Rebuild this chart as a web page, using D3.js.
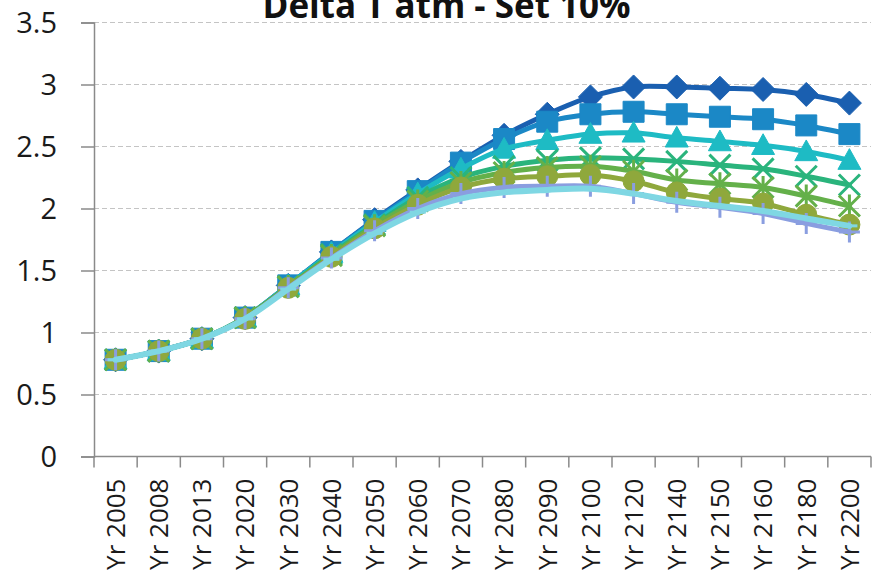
<!DOCTYPE html>
<html>
<head>
<meta charset="utf-8">
<script src="https://cdn.jsdelivr.net/npm/d3@7"></script>
<style>
  html, body { margin: 0; padding: 0; background: #fff; }
  svg { display: block; }
</style>
</head>
<body>
<svg id="chart" width="873" height="579"></svg>
<script>
// ---- DATA ----
const title = "Delta T atm - Set 10%";
const categories = ["Yr 2005","Yr 2008","Yr 2013","Yr 2020","Yr 2030","Yr 2040","Yr 2050","Yr 2060","Yr 2070","Yr 2080","Yr 2090","Yr 2100","Yr 2120","Yr 2140","Yr 2150","Yr 2160","Yr 2180","Yr 2200"];
const yTickValues = [0, 0.5, 1, 1.5, 2, 2.5, 3, 3.5];
const yTickLabels = ["0", "0.5", "1", "1.5", "2", "2.5", "3", "3.5"];

const seriesNames = ["S1", "S2", "S3", "S4", "S5", "S6", "S7", "S8"];
const seriesMarkers = ["diamond", "square", "triangle", "x", "star", "circle", "plus", "dash"];
const seriesColors = ["#1a5fb0", "#1b88c6", "#1ebbc4", "#2ab47c", "#64b04a", "#8fa83c", "#8a9ee0", "#7fd7e3"];

const s1 = [0.78,0.85,0.95,1.12,1.38,1.65,1.91,2.15,2.38,2.59,2.76,2.90,2.98,2.98,2.97,2.96,2.92,2.85];
const s2 = [0.78,0.85,0.95,1.12,1.38,1.65,1.90,2.14,2.37,2.56,2.70,2.76,2.78,2.76,2.74,2.72,2.67,2.60];
const s3 = [0.78,0.85,0.95,1.12,1.38,1.64,1.89,2.12,2.32,2.48,2.55,2.60,2.61,2.57,2.54,2.51,2.46,2.39];
const s4 = [0.78,0.85,0.95,1.12,1.37,1.63,1.87,2.09,2.25,2.34,2.39,2.41,2.40,2.38,2.35,2.32,2.26,2.19];
const s5 = [0.78,0.85,0.95,1.12,1.37,1.62,1.86,2.06,2.21,2.29,2.33,2.34,2.30,2.23,2.20,2.17,2.10,2.02];
const s6 = [0.78,0.85,0.95,1.11,1.36,1.61,1.84,2.03,2.17,2.24,2.26,2.27,2.22,2.13,2.08,2.04,1.95,1.87];
const s7 = [0.78,0.85,0.95,1.11,1.36,1.60,1.82,2.00,2.12,2.17,2.18,2.18,2.12,2.05,2.01,1.96,1.88,1.81];
const s8 = [0.78,0.85,0.95,1.11,1.35,1.59,1.80,1.97,2.08,2.13,2.15,2.16,2.12,2.06,2.02,1.98,1.92,1.86];
const seriesValues = [s1, s2, s3, s4, s5, s6, s7, s8];

// ---- LAYOUT ----
const svg = d3.select("#chart");
const margin = { left: 94, right: 2, top: 22.5, bottom: 122.5 };
const W = 873, H = 579;
const x0 = margin.left, x1 = W - margin.right;
const yTop = margin.top, yBot = H - margin.bottom;

const x = d3.scaleBand().domain(categories).range([x0, x1]).padding(0);
const y = d3.scaleLinear().domain([0, 3.5]).range([yBot, yTop]);

// gridlines
svg.append("g").selectAll("line")
  .data(yTickValues.filter(v => v > 0))
  .join("line")
  .attr("x1", x0).attr("x2", x1)
  .attr("y1", d => y(d)).attr("y2", d => y(d))
  .attr("stroke", "#c4c4c4").attr("stroke-width", 1)
  .attr("stroke-dasharray", "5,3");

// y axis
const yAxis = d3.axisLeft(y).tickValues(yTickValues)
  .tickFormat((d, i) => yTickLabels[i]).tickSize(13).tickPadding(24);
const gy = svg.append("g").attr("transform", `translate(${x0},0)`).call(yAxis);
gy.select(".domain").attr("stroke", "#8a8a8a").attr("stroke-width", 1.5);
gy.selectAll(".tick line").attr("stroke", "#8a8a8a").attr("stroke-width", 1.5);
gy.selectAll(".tick text")
  .attr("font-family", "'Open Sans', sans-serif").attr("font-size", 29)
  .attr("fill", "#1a1a1a").attr("dy", "0.36em");

// x axis (ticks at category boundaries)
const boundaries = categories.map(c => x(c)).concat([x1]);
const gx = svg.append("g");
gx.append("line").attr("x1", x0).attr("x2", x1).attr("y1", yBot).attr("y2", yBot)
  .attr("stroke", "#8a8a8a").attr("stroke-width", 1.5);
gx.selectAll("line.tk").data(boundaries).join("line").attr("class", "tk")
  .attr("x1", d => d).attr("x2", d => d).attr("y1", yBot).attr("y2", yBot + 11)
  .attr("stroke", "#8a8a8a").attr("stroke-width", 1.5);
gx.selectAll("text").data(categories).join("text")
  .attr("transform", d => `translate(${x(d) + x.bandwidth() / 2},${yBot + 22}) rotate(-90)`)
  .attr("text-anchor", "end").attr("dy", "0.36em")
  .attr("font-family", "'Open Sans', sans-serif").attr("font-size", 26)
  .attr("fill", "#1a1a1a")
  .text(d => d);

// title (cut at top edge as in the reference)
svg.append("text").attr("x", 446.5).attr("y", 18)
  .attr("text-anchor", "middle")
  .attr("font-family", "'Open Sans', sans-serif").attr("font-weight", 700)
  .attr("font-size", 35).attr("fill", "#111")
  .text(title);

// ---- SERIES ----
const line = d3.line()
  .x((d, i) => x(categories[i]) + x.bandwidth() / 2)
  .y(d => y(d))
  .curve(d3.curveCatmullRom.alpha(0.5));

function markerPath(type) {
  switch (type) {
    case "diamond": { const r = 12; return `M0,${-r}L${r},0L0,${r}L${-r},0Z`; }
    case "square": { const r = 10.5; return `M${-r},${-r}H${r}V${r}H${-r}Z`; }
    case "triangle": { const r = 11.5; return `M0,${-r}L${r},${r * 0.8}L${-r},${r * 0.8}Z`; }
    case "circle": { const r = 10.5; return `M${r},0A${r},${r} 0 1,1 ${-r},0A${r},${r} 0 1,1 ${r},0Z`; }
    case "x": { const r = 10.5; return `M${-r},${-r}L${r},${r}M${r},${-r}L${-r},${r}`; }
    case "star": { const r = 10.5; return `M${-r},${-r}L${r},${r}M${r},${-r}L${-r},${r}M0,${-r - 1}V${r + 1}`; }
    case "plus": { const r = 10.5; return `M0,${-r}V${r}M${-r},0H${r}`; }
    case "dash": { const r = 8; return `M${-r},0H${r}`; }
  }
}
const filled = { diamond: true, square: true, triangle: true, circle: true };

seriesValues.forEach((vals, si) => {
  const g = svg.append("g").attr("class", "series " + seriesNames[si]);
  const col = seriesColors[si];
  g.append("path").datum(vals)
    .attr("d", line).attr("fill", "none")
    .attr("stroke", col).attr("stroke-width", si === 7 ? 6 : 5)
    .attr("stroke-linejoin", "round").attr("stroke-linecap", "round");
  const type = seriesMarkers[si];
  g.selectAll("path.mk").data(vals).join("path").attr("class", "mk")
    .attr("transform", (d, i) => `translate(${x(categories[i]) + x.bandwidth() / 2},${y(d)})`)
    .attr("d", markerPath(type))
    .attr("fill", filled[type] ? col : "none")
    .attr("stroke", col)
    .attr("stroke-width", filled[type] ? 1 : 3);
});
</script>
</body>
</html>
